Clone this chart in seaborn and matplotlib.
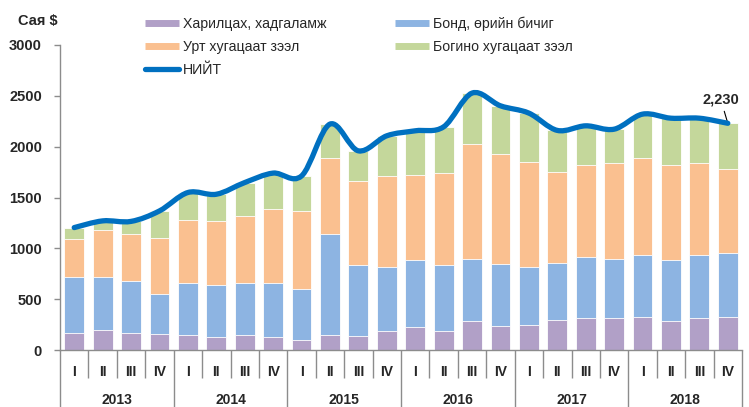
import matplotlib.pyplot as plt
import pandas as pd
import seaborn as sns
from matplotlib.lines import Line2D
from matplotlib.path import Path
from matplotlib.patches import PathPatch
import matplotlib.transforms as mtransforms

sns.set_theme(style="white")
plt.rcParams['font.family'] = ['Liberation Sans', 'DejaVu Sans']

years = ["2013", "2014", "2015", "2016", "2017", "2018"]
quarters = ["I", "II", "III", "IV"]

# sub-series (million USD)
deposits = [169, 199, 169, 160, 146, 130, 146, 130, 95, 146, 133, 189,
            225, 189, 288, 238, 244, 297, 313, 313, 327, 287, 313, 327]
bonds = [548, 518, 509, 393, 509, 509, 509, 525, 508, 992, 699, 630,
         660, 643, 607, 607, 576, 558, 598, 582, 607, 598, 621, 624]
long_loans = [378, 460, 463, 552, 628, 630, 667, 736, 765, 755, 831, 893,
              838, 907, 1136, 1084, 1032, 897, 904, 949, 959, 930, 910, 827]
short_loans = [109, 93, 124, 263, 266, 263, 325, 349, 344, 329, 296, 395,
               433, 456, 496, 473, 478, 408, 390, 328, 427, 465, 436, 452]

labels = ["Харилцах, хадгаламж", "Бонд, өрийн бичиг",
          "Урт хугацаат зээл", "Богино хугацаат зээл"]
total_label = "НИЙТ"
colors = ["#B1A0C7", "#8DB4E2", "#FAC090", "#C4D79B"]
line_color = "#0070C0"

cats = [y + " " + q for y in years for q in quarters]
df = pd.DataFrame({"cat": cats, "dep": deposits, "bond": bonds,
                   "long": long_loans, "short": short_loans})
df["c1"] = df["dep"]
df["c2"] = df["c1"] + df["bond"]
df["c3"] = df["c2"] + df["long"]
df["c4"] = df["c3"] + df["short"]
totals = df["c4"].tolist()

fig = plt.figure(figsize=(7.49, 4.07), dpi=100)
ax = fig.add_axes([60 / 749, 57 / 407, 682 / 749, 305 / 407])

for col, c in zip(["c4", "c3", "c2", "c1"], colors[::-1]):
    sns.barplot(data=df, x="cat", y=col, order=cats, color=c, width=0.7,
                edgecolor="white", linewidth=0.6, saturation=1, ax=ax)

# smooth total line (Catmull-Rom -> bezier, like Excel smoothed lines)
n = len(totals)
pts = [(float(i), float(v)) for i, v in enumerate(totals)]
verts = [pts[0]]
codes = [Path.MOVETO]
for i in range(n - 1):
    p0 = pts[max(i - 1, 0)]
    p1 = pts[i]
    p2 = pts[i + 1]
    p3 = pts[min(i + 2, n - 1)]
    c1 = (p1[0] + (p2[0] - p0[0]) / 6, p1[1] + (p2[1] - p0[1]) / 6)
    c2 = (p2[0] - (p3[0] - p1[0]) / 6, p2[1] - (p3[1] - p1[1]) / 6)
    verts += [c1, c2, p2]
    codes += [Path.CURVE4] * 3
ax.add_patch(PathPatch(Path(verts, codes), fill=False, edgecolor=line_color,
                       lw=3.8, capstyle="round", joinstyle="round", zorder=5))

ax.set_ylim(0, 3000)
ax.set_xlim(-0.5, n - 0.5)
ax.set_yticks(range(0, 3001, 500))
ax.set_yticklabels([str(v) for v in range(0, 3001, 500)], fontweight="bold", fontsize=10.5)
ax.set_xlabel("")
ax.set_ylabel("")
sns.despine(ax=ax)
for s in ["left", "bottom"]:
    ax.spines[s].set_color("#8C8C8C")
    ax.spines[s].set_linewidth(1)
ax.tick_params(axis="y", direction="out", length=4, color="#8C8C8C", width=1,
               left=True, pad=9)

# two level category axis
ax.set_xticks([i * 4 - 0.5 for i in range(len(years) + 1)])
ax.set_xticks([i - 0.5 for i in range(n + 1) if i % 4 != 0], minor=True)
ax.set_xticklabels([])
ax.tick_params(axis="x", which="major", direction="out", length=41, color="#8C8C8C",
               width=1, bottom=True)
ax.tick_params(axis="x", which="minor", direction="out", length=20, color="#8C8C8C",
               width=1, bottom=True)
trans = mtransforms.blended_transform_factory(ax.transData, ax.transAxes)
for i, cat in enumerate(cats):
    ax.text(i, -0.072, cat.split()[1], transform=trans, ha="center", va="center",
            fontsize=10, fontweight="bold")
for j, y in enumerate(years):
    ax.text(j * 4 + 1.5, -0.165, y, transform=trans, ha="center", va="center",
            fontsize=10, fontweight="bold")

ax.annotate(f"{totals[-1]:,}", xy=(n - 1, totals[-1]), xytext=(-5, 17),
            textcoords="offset points", ha="center", va="center",
            fontsize=10.5, fontweight="bold",
            arrowprops=dict(arrowstyle="-", color="black", lw=0.8, shrinkA=1, shrinkB=1))

fig.text(38 / 749, 1 - 21 / 407, "Сая $", ha="center", va="center",
         fontsize=10.5, fontweight="bold")

handles = [Line2D([], [], color=colors[0], lw=5, solid_capstyle="butt"),
           Line2D([], [], color=colors[2], lw=5, solid_capstyle="butt"),
           Line2D([], [], color=line_color, lw=3.8, solid_capstyle="round"),
           Line2D([], [], color=colors[1], lw=5, solid_capstyle="butt"),
           Line2D([], [], color=colors[3], lw=5, solid_capstyle="butt")]
leg_labels = [labels[0], labels[2], total_label, labels[1], labels[3]]
fig.legend(handles, leg_labels, loc="upper left", bbox_to_anchor=(145 / 749, 1 - 17 / 407),
           ncol=2, frameon=False, fontsize=10.2, handlelength=2.4, handletextpad=0.25,
           columnspacing=4.9, labelspacing=0.62, borderpad=0, borderaxespad=0)

fig.savefig("out.png", dpi=100)
